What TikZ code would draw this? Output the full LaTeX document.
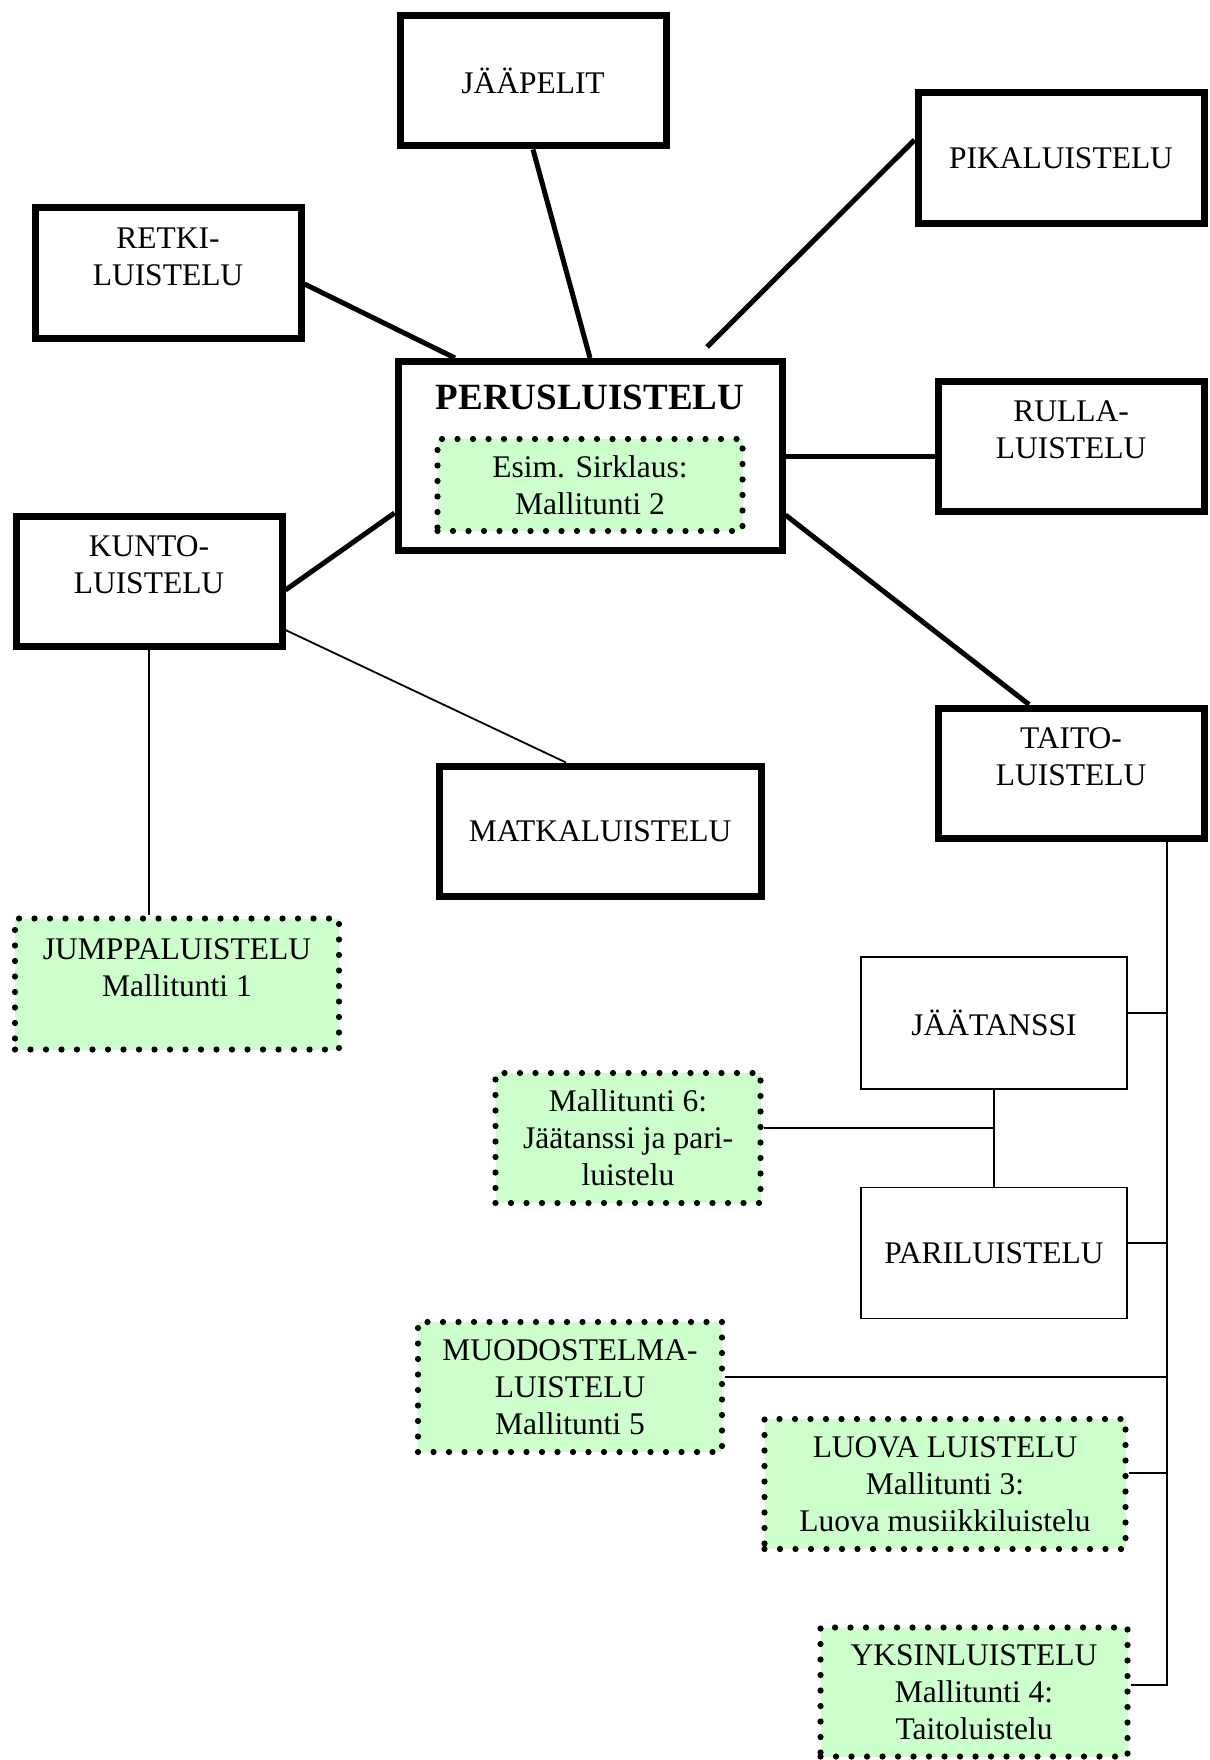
\documentclass[tikz,border=0pt]{standalone}
\usepackage{fontspec}
\setmainfont{Liberation Serif}
\usetikzlibrary{calc}
\definecolor{mallgreen}{HTML}{CCFFCC}
\newcommand{\boxfont}{\fontsize{31.5}{37}\selectfont}
\tikzset{
  thickbox/.style={draw, line width=7pt, fill=white, align=center,
    minimum width=266pt, minimum height=130pt},
  thinbox/.style={draw, line width=1.8pt, fill=white, align=center,
    minimum width=266pt, minimum height=132pt},
  dotbox/.style={draw, fill=mallgreen, line width=6.2pt, line cap=round,
    dash pattern=on 0pt off 15.5pt, align=center, minimum height=130pt},
  twoline/.style={text depth=32pt},
  thicklink/.style={line width=5pt},
  thinlink/.style={line width=1.8pt}
}

\begin{document}
\begin{tikzpicture}[x=1pt,y=-1pt,font=\boxfont]
\useasboundingbox (0,0) rectangle (1209,1760);

% ------------------------------------------------------------------
% upper part: PERUSLUISTELU and its neighbours
% ------------------------------------------------------------------
\node[thickbox] (jaapelit) at (533,81) {JÄÄPELIT};
\node[thickbox, minimum width=286pt, minimum height=131pt] (pika) at (1061,158) {PIKALUISTELU};
\node[thickbox, twoline] (retki) at (168,273) {RETKI-\\LUISTELU};
\node[thickbox, minimum width=384pt, minimum height=189pt] (perus) at (590,456) {};
\node[font=\fontsize{37}{40}\selectfont\bfseries] (perustitle) at (590,397) {PERUSLUISTELU};
\node[dotbox, minimum width=305pt, minimum height=92pt] (sirklaus) at (590,485)
  {Esim. Sirklaus:\\Mallitunti 2};
\node[thickbox, twoline] (rulla) at (1071,446) {RULLA-\\LUISTELU};
\node[thickbox, twoline] (kunto) at (149,581) {KUNTO-\\LUISTELU};
\node[thickbox, twoline] (taito) at (1071,773) {TAITO-\\LUISTELU};
\node[thickbox, minimum width=322pt] (matka) at (600,831) {MATKALUISTELU};

\coordinate (pikaend) at ($(perus.north)+(117,-11)$);

\draw[thicklink] (jaapelit.south) -- (perus.north);
\draw[thicklink] ([yshift=-11pt]retki.east) -- ([xshift=-135pt]perus.north);
\draw[thicklink] ([yshift=18pt]pika.west) -- (pikaend);
\draw[thicklink] (perus.east) -- (perus.east -| rulla.west);
\draw[thicklink] ([yshift=-9pt]kunto.east) -- ([yshift=-57pt]perus.west);
\draw[thicklink] ([yshift=-59pt]perus.east) -- ([xshift=-42pt]taito.north);
\draw[thinlink] ([yshift=-49pt]kunto.east) -- ([xshift=-34pt]matka.north);

% ------------------------------------------------------------------
% lower part: model lessons
% ------------------------------------------------------------------
\node[dotbox, twoline, minimum width=324pt, minimum height=131pt] (jumppa) at (177,984)
  {JUMPPALUISTELU\\Mallitunti 1};
\node[thinbox] (jaatanssi) at (994,1023) {JÄÄTANSSI};
\node[thinbox, minimum height=131pt] (pari) at (994,1253) {PARILUISTELU};
\node[dotbox, minimum width=265pt] (malli6) at (628,1138)
  {Mallitunti 6:\\Jäätanssi ja pari-\\luistelu};
\node[dotbox, minimum width=304pt] (muodostelma) at (570,1387)
  {MUODOSTELMA-\\LUISTELU\\Mallitunti 5};
\node[dotbox, minimum width=361pt] (luova) at (945,1484)
  {LUOVA LUISTELU\\Mallitunti 3:\\Luova musiikkiluistelu};
\node[dotbox, minimum width=307pt, minimum height=129pt] (yksin) at (974,1692)
  {YKSINLUISTELU\\Mallitunti 4:\\Taitoluistelu};

\coordinate (trunk) at ($(taito.south)+(96,0)$);

\draw[thinlink] (kunto.south) -- (kunto.south |- jumppa.north);
\draw[thinlink] (jaatanssi.south) -- (pari.north);
\draw[thinlink] ([yshift=10pt]malli6.east) -| (jaatanssi.south);
\draw[thinlink] ([yshift=10pt]jaatanssi.east) -| (trunk);
\draw[thinlink] ([yshift=10pt]pari.east) -| (trunk);
\draw[thinlink] ([yshift=10pt]muodostelma.east) -| (trunk);
\draw[thinlink] ([yshift=11pt]luova.east) -| (trunk);
\draw[thinlink] ([yshift=7pt]yksin.east) -| (trunk);

\end{tikzpicture}
\end{document}
